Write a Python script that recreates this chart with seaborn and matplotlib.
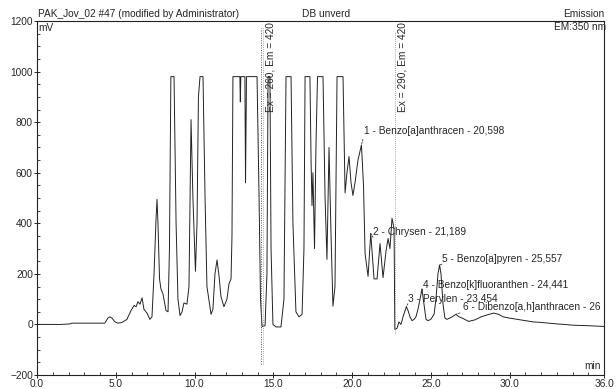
import matplotlib
matplotlib.use("Agg")
import matplotlib.pyplot as plt
import seaborn as sns
import pandas as pd
from matplotlib.ticker import MultipleLocator, FixedLocator

# ---- data ----
time_min = [0.0, 1.5, 2.1, 2.2, 4.3, 4.5, 4.63, 4.76, 4.95, 5.14, 5.4, 5.71, 5.97, 6.16, 6.29, 6.41,
            6.54, 6.67, 6.79, 6.98, 7.17, 7.3, 7.43, 7.56, 7.62, 7.68, 7.78, 7.87, 8.0, 8.19, 8.32,
            8.41, 8.5, 8.7, 8.83, 8.95, 9.08, 9.21, 9.33, 9.52, 9.65, 9.78, 9.9, 10.06, 10.16, 10.25,
            10.35, 10.54, 10.67, 10.79, 10.92, 11.05, 11.17, 11.3, 11.43, 11.56, 11.68, 11.87, 12.06,
            12.19, 12.32, 12.38, 12.44, 12.88, 12.91, 12.94, 13.2, 13.24, 13.3, 13.97, 14.1, 14.19,
            14.29, 14.48, 14.6, 14.67, 14.79, 14.86, 14.98, 15.17, 15.49, 15.68, 15.81, 16.13, 16.25,
            16.44, 16.63, 16.83, 16.95, 17.02, 17.33, 17.4, 17.46, 17.52, 17.62, 17.71, 17.81, 18.16,
            18.29, 18.41, 18.54, 18.67, 18.79, 18.92, 19.05, 19.43, 19.56, 19.68, 19.81, 19.94, 20.06,
            20.19, 20.38, 20.6, 20.73, 20.83, 21.02, 21.19, 21.4, 21.59, 21.78, 21.97, 22.16, 22.29,
            22.41, 22.54, 22.67, 22.72, 22.86, 22.98, 23.11, 23.24, 23.45, 23.56, 23.68, 23.81, 23.94,
            24.06, 24.19, 24.32, 24.44, 24.57, 24.7, 24.83, 25.0, 25.21, 25.33, 25.46, 25.56, 25.65,
            25.78, 25.9, 26.03, 26.3, 26.6, 26.8, 27.1, 27.4, 27.8, 28.2, 28.6, 29.0, 29.3, 29.6,
            30.0, 30.5, 31.0, 31.5, 32.0, 32.5, 33.0, 33.5, 34.0, 35.0, 36.0]
signal_mv = [0, 0, 2, 5, 5, 25, 30, 25, 10, 5, 8, 20, 55, 75, 70, 90,
             80, 105, 60, 45, 20, 30, 200, 420, 495, 400, 180, 140, 120, 55, 50,
             300, 980, 980, 400, 100, 35, 50, 85, 80, 150, 810, 500, 210, 400, 900,
             980, 980, 500, 150, 95, 40, 60, 200, 255, 190, 110, 70, 100,
             160, 180, 350, 980, 980, 880, 980, 980, 560, 980, 980, 500, 100,
             -8, -5, 200, 980, 980, 300, 0, -10, -10, 100, 980, 980, 400,
             50, 30, 40, 300, 980, 980, 650, 470, 600, 300, 700, 980, 980,
             500, 257, 700, 350, 72, 150, 980, 980, 520, 600, 664, 560, 510,
             560, 650, 710, 550, 280, 190, 360, 180, 180, 320, 185, 290, 340,
             300, 420, 380, -20, -15, 10, 0, 30, 70, 55, 30, 15, 20,
             30, 60, 100, 140, 80, 20, 15, 20, 40, 100, 200, 235, 200,
             80, 25, 20, 28, 40, 30, 22, 12, 18, 30, 38, 45, 40, 30,
             25, 20, 15, 10, 8, 5, 2, 0, -3, -5, -8]

peak_labels = ["1 - Benzo[a]anthracen - 20,598", "2 - Chrysen - 21,189", "3 - Perylen - 23,454",
               "4 - Benzo[k]fluoranthen - 24,441", "5 - Benzo[a]pyren - 25,557",
               "6 - Dibenzo[a,h]anthracen - 26"]
peak_times = [20.598, 21.189, 23.454, 24.441, 25.557, 26.6]
peak_heights = [710, 360, 70, 140, 235, 40]

event_times = [14.25, 22.7]
event_labels = ["Ex = 260, Em = 420", "Ex = 290, Em = 420"]

x_ticks = [0, 5, 10, 15, 20, 25, 30, 36]
x_tick_labels = ["0.0", "5.0", "10.0", "15.0", "20.0", "25.0", "30.0", "36.0"]
y_ticks = [-200, 0, 200, 400, 600, 800, 1000, 1200]

df = pd.DataFrame({"time": time_min, "signal": signal_mv})

sns.set_style("ticks")
plt.rcParams["font.family"] = ["Liberation Sans", "DejaVu Sans"]
fs = 7.3

fig = plt.figure(figsize=(6.16, 3.89), dpi=100)
ax = fig.add_axes([37 / 616, 1 - 375 / 389, (604 - 37) / 616, (375 - 21) / 389])

sns.lineplot(data=df, x="time", y="signal", ax=ax, sort=False, estimator=None,
             color="#222222", linewidth=0.7)

# event lines
ax.axvline(event_times[0], ymin=0.03, ymax=0.98, color="#555555", lw=0.7, ls=(0, (1, 1.5)))
ax.axvline(event_times[0] + 0.12, ymin=0.03, ymax=0.98, color="#888888", lw=0.6, ls=(0, (1, 1.5)))
ax.axvline(event_times[1], ymin=0.12, ymax=0.97, color="#888888", lw=0.6, ls=(0, (1, 1.5)))
ax.text(event_times[0] + 0.6, 842, event_labels[0], rotation=90, ha="center", va="bottom", fontsize=fs)
ax.text(event_times[1] + 0.5, 842, event_labels[1], rotation=90, ha="center", va="bottom", fontsize=fs)

# peak annotations
label_pos = [(20.75, 745), (21.33, 345), (23.55, 82), (24.5, 135), (25.7, 238), (27.05, 50)]
for lab, pt, ph, (lx, ly) in zip(peak_labels, peak_times, peak_heights, label_pos):
    ax.annotate(lab, xy=(pt, ph), xytext=(lx, ly), fontsize=fs, ha="left", va="bottom",
                arrowprops=dict(arrowstyle="-", linestyle=(0, (2, 1.5)), lw=0.6, color="#333333",
                                shrinkA=0, shrinkB=0, relpos=(0, 0)))

ax.set_xlim(0, 36)
ax.set_ylim(-200, 1200)
ax.xaxis.set_major_locator(FixedLocator(x_ticks))
ax.set_xticklabels(x_tick_labels)
ax.xaxis.set_minor_locator(MultipleLocator(1))
ax.yaxis.set_major_locator(FixedLocator(y_ticks))
ax.yaxis.set_minor_locator(MultipleLocator(50))
ax.tick_params(axis="both", which="major", labelsize=fs, length=4, width=0.7, pad=1, direction="inout")
ax.tick_params(axis="both", which="minor", length=2, width=0.6, direction="in")
ax.set_xlabel("")
ax.set_ylabel("")
for s in ax.spines.values():
    s.set_linewidth(0.8)
    s.set_color("#222222")
    s.set_visible(True)

# header texts
ax.text(0.002, 1.006, "PAK_Jov_02 #47 (modified by Administrator)", transform=ax.transAxes,
        fontsize=fs, ha="left", va="bottom")
ax.text(0.51, 1.006, "DB unverd", transform=ax.transAxes, fontsize=fs, ha="center", va="bottom")
ax.text(1.0, 1.006, "Emission", transform=ax.transAxes, fontsize=fs, ha="right", va="bottom")
ax.text(1.003, 0.997, "EM:350 nm", transform=ax.transAxes, fontsize=fs, ha="right", va="top")
ax.text(0.003, 0.995, "mV", transform=ax.transAxes, fontsize=fs, ha="left", va="top")
ax.text(0.995, 0.01, "min", transform=ax.transAxes, fontsize=fs, ha="right", va="bottom")

fig.savefig("out.png", dpi=100)
